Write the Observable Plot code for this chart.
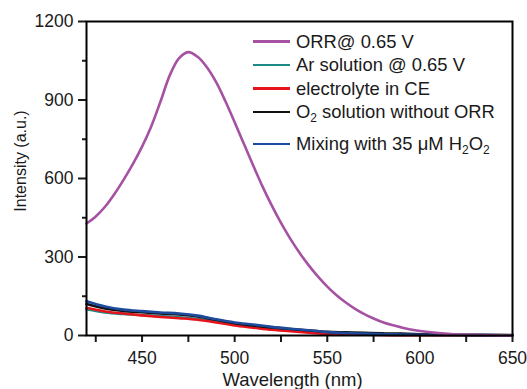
<!DOCTYPE html>
<html>
<head>
<meta charset="utf-8">
<script src="https://cdn.jsdelivr.net/npm/d3@7"></script>
<script src="https://cdn.jsdelivr.net/npm/@observablehq/plot@0.6"></script>
<style>
  html, body { margin: 0; padding: 0; background: #fff; }
  #wrap { position: relative; width: 527px; height: 389px; font-family: "Liberation Sans", Arial, sans-serif; color: #1a1a1a; }
  #legend { position: absolute; left: 253px; top: 0; font-size: 18.4px; }
  .row { position: absolute; left: 0; white-space: nowrap; display: flex; align-items: center; }
  .sw { display: inline-block; width: 37px; height: 2.6px; margin-right: 6px; }
  sub { font-size: 12px; vertical-align: -4px; line-height: 0; }
</style>
</head>
<body>
<div id="wrap"><div id="legend"></div></div>
<script>
// Wavelength grids (nm)
const wlORR = [420,425,430,435,440,445,450,455,460,465,470,475,480,485,490,495,500,505,510,515,520,525,530,535,540,545,550,555,560,565,570,575,580,585,590,595,600,610,620,630,640,650];
const orr   = [428,455,492,540,595,655,722,800,895,995,1060,1083,1065,1025,968,895,815,732,650,570,497,430,370,316,268,225,187,154,126,102,82,65,51,40,31,23,17,9,4,2,1,0];

const wlLow = [420,430,440,450,460,470,480,490,500,510,520,530,540,550,560,570,580,590,600,620,650];
const arSol   = [100,88,82,78,74,70,63,53,42,33,25,19,14,9,6,4,3,2,2,1,1];
const electro = [106,92,84,77,71,66,60,50,38,30,22,16,11,6,4,3,2,1,1,1,1];
const o2Sol   = [120,103,94,89,84,80,73,60,47,38,31,25,19,14,12,10,8,7,5,3,2];
const h2o2Mix = [131,111,99,93,88,84,76,62,50,42,33,26,20,13,9,7,5,4,3,2,1];

const seriesColors = ["#a552a3", "#1e8a86", "#e8141c", "#111111", "#1f4b9e"];
const legendHTML = ["ORR@ 0.65 V", "Ar solution @ 0.65 V", "electrolyte in CE", "O<sub>2</sub> solution without ORR", "Mixing with 35 μM H<sub>2</sub>O<sub>2</sub>"];

const yMajor = [0,300,600,900,1200];
const yMinor = [150,450,750,1050];
const xMajor = [450,500,550,600,650];
const xMinor = [425,475,525,575,625];
const xTitle = "Wavelength (nm)";
const yTitle = "Intensity (a.u.)";

const toRows = (wl, vals) => wl.map((w, i) => ({w, v: vals[i]}));
const low = [
  {data: toRows(wlLow, arSol), c: seriesColors[1]},
  {data: toRows(wlLow, electro), c: seriesColors[2]},
  {data: toRows(wlLow, o2Sol), c: seriesColors[3]},
  {data: toRows(wlLow, h2o2Mix), c: seriesColors[4]},
];

const chart = Plot.plot({
  width: 527, height: 389,
  marginLeft: 86, marginRight: 15, marginTop: 21, marginBottom: 54,
  style: {fontFamily: '"Liberation Sans", Arial, sans-serif', color: "#1a1a1a", background: "transparent", overflow: "visible"},
  x: {domain: [420, 650]},
  y: {domain: [0, 1200]},
  marks: [
    ...low.map(s => Plot.line(s.data, {x: "w", y: "v", stroke: s.c, strokeWidth: 2.6, curve: "catmull-rom"})),
    Plot.line(toRows(wlORR, orr), {x: "w", y: "v", stroke: seriesColors[0], strokeWidth: 2.6, curve: "catmull-rom"}),
    Plot.axisY({ticks: yMajor, tickSize: 8, tickPadding: 5, strokeWidth: 2, fontSize: 17.5, tickFormat: d3.format("d"), label: null}),
    Plot.axisY({ticks: yMinor, tickSize: 4, strokeWidth: 2, tickFormat: () => "", label: null}),
    Plot.axisX({ticks: xMajor, tickSize: 7, tickPadding: 9, strokeWidth: 2, fontSize: 17.5, tickFormat: d3.format("d"), label: null}),
    Plot.axisX({ticks: xMinor, tickSize: 7, strokeWidth: 2, tickFormat: () => "", label: null}),
    Plot.frame({stroke: "#000", strokeWidth: 2})
  ]
});
document.getElementById("wrap").prepend(chart);

// axis titles
const svg = d3.select(chart.tagName.toLowerCase() === "svg" ? chart : chart.querySelector("svg"));
svg.append("text").text(xTitle)
  .attr("x", 292.5).attr("y", 386).attr("text-anchor", "middle")
  .attr("font-size", 18.5).attr("fill", "#1a1a1a");
svg.append("text").text(yTitle)
  .attr("transform", "translate(26,161) rotate(-90)").attr("text-anchor", "middle")
  .attr("font-size", 16).attr("fill", "#1a1a1a");

const rowsY = [41.7, 65, 88.5, 112, 144];
const lg = document.getElementById("legend");
legendHTML.forEach((h, i) => {
  const r = document.createElement("div");
  r.className = "row";
  r.style.top = (rowsY[i] - 11) + "px";
  r.style.height = "22px";
  r.innerHTML = `<span class="sw" style="background:${seriesColors[i]}"></span><span>${h}</span>`;
  lg.appendChild(r);
});
</script>
</body>
</html>
